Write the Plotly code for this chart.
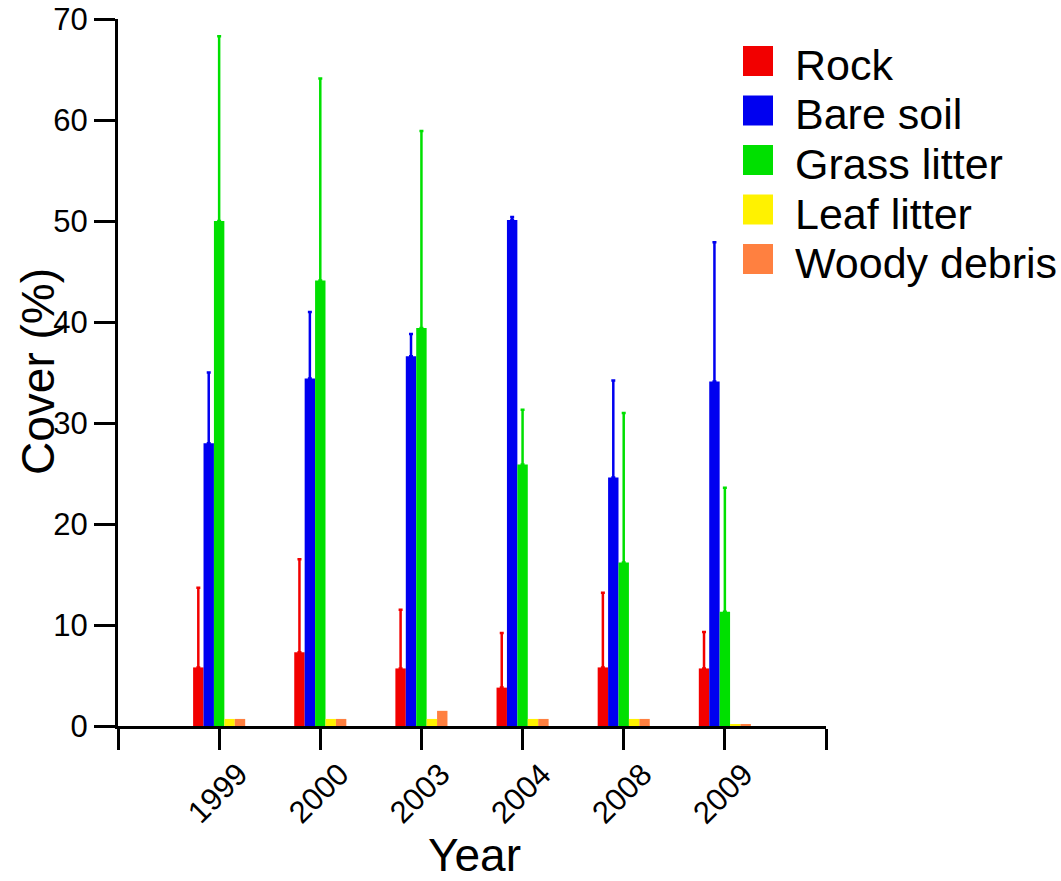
import plotly.graph_objects as go

# ---------------- data ----------------
categories = ["1999", "2000", "2003", "2004", "2008", "2009"]

rock = [5.8, 7.3, 5.7, 3.8, 5.8, 5.7]
rock_err = [7.9, 9.2, 5.8, 5.4, 7.4, 3.6]

bare_soil = [28.0, 34.4, 36.6, 50.1, 24.6, 34.1]
bare_soil_err = [7.0, 6.6, 2.2, 0.3, 9.6, 13.8]

grass_litter = [50.0, 44.1, 39.4, 25.9, 16.2, 11.3]
grass_litter_err = [18.3, 20.0, 19.5, 5.4, 14.8, 12.3]

leaf_litter = [0.7, 0.7, 0.7, 0.7, 0.7, 0.2]
woody_debris = [0.7, 0.7, 1.5, 0.7, 0.7, 0.2]

series_names = ["Rock", "Bare soil", "Grass litter", "Leaf litter", "Woody debris"]
series_colors = ["#F20000", "#0000F0", "#00E000", "#FFF200", "#FF8040"]
series_values = [rock, bare_soil, grass_litter, leaf_litter, woody_debris]
series_errors = [rock_err, bare_soil_err, grass_litter_err, None, None]

y_ticks = [0, 10, 20, 30, 40, 50, 60, 70]
x_title = "Year"
y_title = "Cover (%)"

# ---------------- layout constants ----------------
W, H = 1061, 881
L, R, T, B = 118, 235, 19, 155
FONT = "Liberation Sans, Arial, sans-serif"

x_pos = list(range(1, len(categories) + 1))

fig = go.Figure()
for name, vals, errs, color in zip(series_names, series_values, series_errors, series_colors):
    kw = {}
    if errs is not None:
        kw["error_y"] = dict(type="data", array=errs, symmetric=False,
                             arrayminus=[0] * len(errs), color=color,
                             thickness=2.5, width=2, visible=True)
    fig.add_trace(go.Bar(x=x_pos, y=vals, name=name,
                         marker=dict(color=color, line=dict(width=0)), **kw))


def px_x(px):
    return (px - L) / (W - L - R)


def px_y(py):
    return (H - B - py) / (H - T - B)


shapes = []
annotations = []

# custom legend
for i, (name, color) in enumerate(zip(series_names, series_colors)):
    top = 46 + 49.5 * i
    shapes.append(dict(type="rect", xref="paper", yref="paper",
                       x0=px_x(743), x1=px_x(773), y0=px_y(top + 30), y1=px_y(top),
                       fillcolor=color, line=dict(width=0)))
    annotations.append(dict(xref="paper", yref="paper", x=px_x(793), y=px_y(top + 19),
                            xanchor="left", yanchor="middle", text=name, showarrow=False,
                            font=dict(family=FONT, size=43, color="black")))

# rotated category labels (centred under ticks)
for xp, cat in zip(x_pos, categories):
    annotations.append(dict(xref="x", yref="paper", x=xp, y=px_y(793), xshift=-2,
                            xanchor="center", yanchor="middle", text=cat, textangle=-45,
                            showarrow=False, font=dict(family=FONT, size=31, color="black")))

# axis titles
annotations.append(dict(xref="paper", yref="paper", x=px_x(474), y=px_y(855),
                        xanchor="center", yanchor="middle", text=x_title, showarrow=False,
                        font=dict(family=FONT, size=46, color="black")))
annotations.append(dict(xref="paper", yref="paper", x=px_x(38), y=px_y(372),
                        xanchor="center", yanchor="middle", text=y_title, showarrow=False,
                        textangle=-90,
                        font=dict(family=FONT, size=46, color="black")))

fig.update_layout(
    width=W, height=H,
    margin=dict(l=L, r=R, t=T, b=B, pad=0),
    barmode="group", bargap=0.485, bargroupgap=0,
    showlegend=False,
    plot_bgcolor="white", paper_bgcolor="white",
    font=dict(family=FONT, color="black"),
    shapes=shapes, annotations=annotations,
    xaxis=dict(range=[0, len(categories) + 1], tickmode="array",
               tickvals=list(range(0, len(categories) + 2)),
               ticktext=[""] * (len(categories) + 2),
               ticks="outside", ticklen=21, tickwidth=2.5,
               tickcolor="black", showline=True, linewidth=3, linecolor="black",
               showgrid=False, zeroline=False, automargin=False),
    yaxis=dict(range=[0, 70], tickmode="array", tickvals=y_ticks,
               ticktext=[str(v) for v in y_ticks],
               ticks="outside", ticklen=21, tickwidth=2.5, tickcolor="black",
               showline=True, linewidth=3, linecolor="black",
               showgrid=False, zeroline=False, automargin=False,
               tickfont=dict(family=FONT, size=31, color="black")),
)

fig.write_html("out.html")
